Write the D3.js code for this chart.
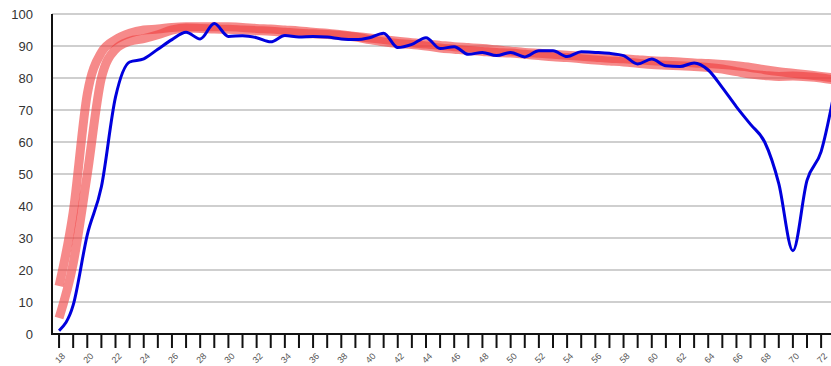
<!DOCTYPE html>
<html>
<head>
<meta charset="utf-8">
<script src="https://cdn.jsdelivr.net/npm/d3@7/dist/d3.min.js"></script>
<style>
  html, body { margin: 0; padding: 0; background: #fff; }
  svg { display: block; font-family: "Liberation Sans", Arial, sans-serif; }
</style>
</head>
<body>
<svg id="chart" width="831" height="366"></svg>
<script>
// ages 18..73
var ages = d3.range(18, 74);

var seriesA = [15, 38, 75, 88, 92, 94, 95, 95.3, 95.8, 96, 96, 96, 96, 95.8, 95.5, 95.3, 95, 94.7, 94.3, 94,
  93.5, 93, 92.5, 92, 91.5, 91, 90.6, 90.2, 89.8, 89.5, 89.2, 88.8, 88.4, 88, 87.7, 87.4, 87.1, 86.8, 86.5, 86.2,
  86, 85.7, 85.4, 85.2, 85, 84.7, 84.5, 84.2, 83.8, 83.3, 82.6, 82, 81.5, 81, 80.5, 80];

var seriesB = [5, 22, 50, 80, 89, 91.5, 92.3, 93.5, 95, 95.6, 95.5, 95.3, 95.2, 95, 94.8, 94.6, 94.3, 94, 93.8, 93.6,
  93.3, 92.8, 92, 91.3, 90.8, 90.5, 90, 89.4, 89, 88.6, 88.3, 88, 87.8, 87.4, 87, 86.6, 86.4, 86, 85.6, 85.3,
  85, 84.6, 84.2, 84, 83.8, 83.6, 83.3, 82.8, 82, 81.2, 80.8, 80.5, 80.6, 80.4, 80, 79.3];

var seriesBlue = [1, 9, 31, 46, 74, 85, 86, 89, 92, 94.3, 92.2, 97, 93, 93.2, 92.6, 91.3, 93.3, 92.8, 93, 92.8,
  92.2, 92, 92.6, 94, 89.5, 90.5, 92.6, 89.2, 89.8, 87.4, 88, 87, 88, 86.6, 88.5, 88.5, 86.7, 88.2, 88, 87.7,
  87, 84.4, 85.9, 83.8, 83.6, 84.7, 82.5, 77, 71, 65.5, 60, 47, 26, 48, 57, 77];

var yTicks = d3.range(0, 101, 10);
var xTickLabels = d3.range(18, 73, 2);

var svg = d3.select('#chart');

var x = d3.scaleLinear().domain([17.5, 72.7]).range([52, 831]);
var y = d3.scaleLinear().domain([0, 100]).range([334, 14]);

// gridlines
svg.append('g').selectAll('line').data(yTicks.filter(function (d) { return d > 0; }))
  .enter().append('line')
  .attr('x1', 52).attr('x2', 831)
  .attr('y1', function (d) { return y(d); })
  .attr('y2', function (d) { return y(d); })
  .attr('stroke', '#cfcfcf')
  .attr('stroke-width', 2);

// y labels
svg.append('g').selectAll('text').data(yTicks)
  .enter().append('text')
  .attr('x', 33)
  .attr('y', function (d) { return y(d); })
  .attr('dy', '0.35em')
  .attr('text-anchor', 'end')
  .attr('font-size', 13)
  .attr('fill', '#333')
  .text(function (d) { return d; });

// x ticks
svg.append('g').selectAll('line').data(d3.range(18, 74))
  .enter().append('line')
  .attr('x1', function (d) { return x(d); })
  .attr('x2', function (d) { return x(d); })
  .attr('y1', 334).attr('y2', 348)
  .attr('stroke', '#111')
  .attr('stroke-width', 2);

svg.append('g').selectAll('text').data(xTickLabels)
  .enter().append('text')
  .attr('transform', function (d) { return 'translate(' + (x(d) + 1) + ',358) rotate(-45)'; })
  .attr('text-anchor', 'middle')
  .attr('dy', '0.35em')
  .attr('font-size', 9)
  .attr('fill', '#555')
  .text(function (d) { return d; });

// clip to plot
svg.append('clipPath').attr('id', 'plot')
  .append('rect').attr('x', 52).attr('y', 0).attr('width', 779).attr('height', 334);

var line = d3.line()
  .x(function (d) { return x(d[0]); })
  .y(function (d) { return y(d[1]); })
  .curve(d3.curveMonotoneX);

var plot = svg.append('g').attr('clip-path', 'url(#plot)');

[seriesA, seriesB].forEach(function (s) {
  plot.append('path')
    .datum(d3.zip(ages, s))
    .attr('d', line)
    .attr('fill', 'none')
    .attr('stroke', 'rgb(240,60,60)')
    .attr('stroke-opacity', 0.6)
    .attr('stroke-width', 9);
});

plot.append('path')
  .datum(d3.zip(ages, seriesBlue))
  .attr('d', line)
  .attr('fill', 'none')
  .attr('stroke', '#0000dd')
  .attr('stroke-width', 3)
  .attr('stroke-linejoin', 'round');

// axes lines
svg.append('line').attr('x1', 52).attr('x2', 52).attr('y1', 14).attr('y2', 335)
  .attr('stroke', '#111').attr('stroke-width', 2);
svg.append('line').attr('x1', 51).attr('x2', 831).attr('y1', 334).attr('y2', 334)
  .attr('stroke', '#111').attr('stroke-width', 2);
</script>
</body>
</html>
